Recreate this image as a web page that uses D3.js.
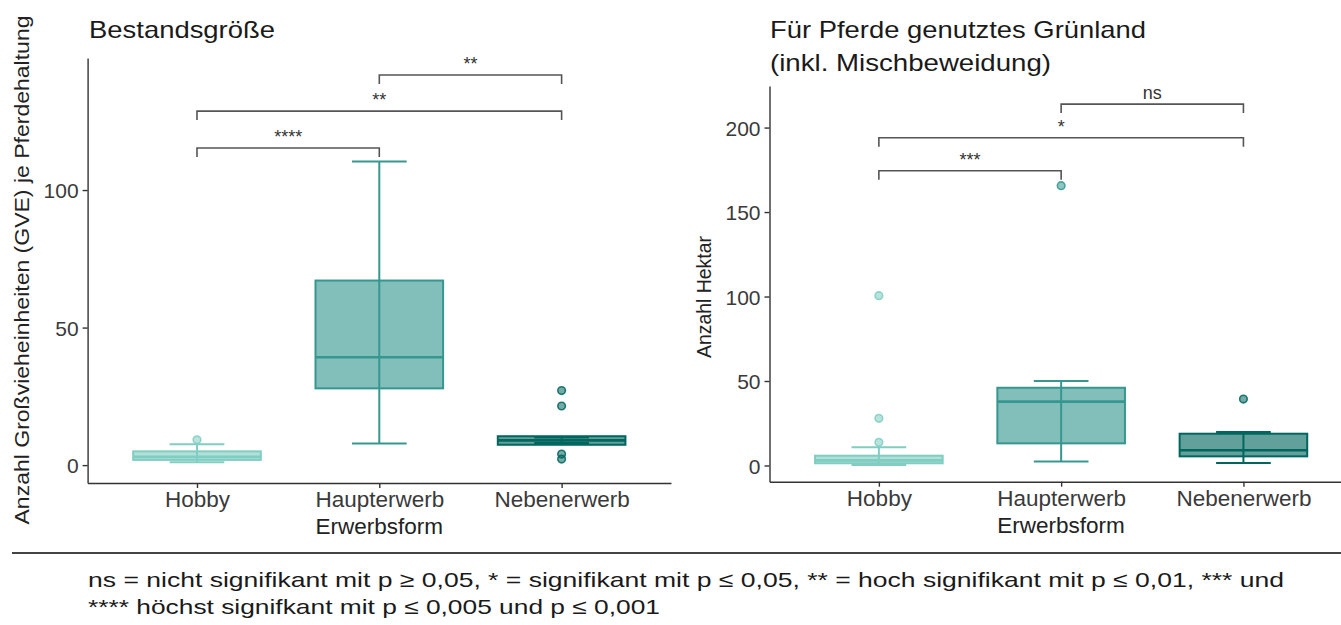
<!DOCTYPE html>
<html>
<head>
<meta charset="utf-8">
<script src="https://cdn.jsdelivr.net/npm/d3@7"></script>
<style>
  body { margin: 0; background: #fff; }
  svg { display: block; }
  text { font-family: "Liberation Sans", Arial, Helvetica, sans-serif; }
</style>
</head>
<body>
<svg id="chart" width="1341" height="625"></svg>
<script>
// ---- data -------------------------------------------------------------
const categories = ["Hobby", "Haupterwerb", "Nebenerwerb"];
const boxColors = ["#80cdc1", "#35978f", "#01665e"];

// Bestandsgröße (GVE je Pferdehaltung)
const gveWhiskerLow  = [1.0, 7.9, 8.0];
const gveQ1          = [1.9, 27.9, 7.4];
const gveMedian      = [3.0, 39.2, 9.0];
const gveQ3          = [5.0, 67.1, 10.5];
const gveWhiskerHigh = [7.6, 110.4, 10.0];
const gveOutliers    = [[9.2], [], [27.1, 21.5, 4.0, 2.2]];
const gveTicks       = [0, 50, 100];
const gvePairs       = [[0, 1], [0, 2], [1, 2]];
const gveSigLabels   = ["****", "**", "**"];
const gveSigHeights  = [115.3, 128.7, 141.8];

// Für Pferde genutztes Grünland (Hektar)
const haWhiskerLow  = [0.3, 2.3, 1.5];
const haQ1          = [1.3, 13.1, 5.4];
const haMedian      = [3.0, 37.8, 9.0];
const haQ3          = [5.8, 46.0, 18.8];
const haWhiskerHigh = [10.8, 50.0, 19.8];
const haOutliers    = [[100.5, 27.9, 13.7], [165.6], [39.3]];
const haTicks       = [0, 50, 100, 150, 200];
const haPairs       = [[0, 1], [0, 2], [1, 2]];
const haSigLabels   = ["***", "*", "ns"];
const haSigHeights  = [174.4, 194.0, 213.9];

const xAxisTitle = "Erwerbsform";
const footnoteLines = [
  "ns = nicht signifikant mit p \u2265 0,05, * = signifikant mit p \u2264 0,05, ** = hoch signifikant mit p \u2264 0,01, *** und",
  "**** h\u00f6chst signifkant mit p \u2264 0,005 und p \u2264 0,001"
];

// ---- drawing ----------------------------------------------------------
const svg = d3.select("#chart");
const axisColor = "#333";
const tickTextColor = "#3a3a3a";

function drawPanel(cfg) {
  const g = svg.append("g");
  const x = d3.scalePoint().domain(categories).range(cfg.xRange).padding(0.6);
  const y = d3.scaleLinear().domain(cfg.yDomain).range(cfg.yRange);
  const step = x.step();
  const boxW = step * 0.7;
  const capW = step * 0.3;

  // y axis
  const ya = g.append("g")
    .attr("transform", `translate(${cfg.xRange[0]},0)`)
    .call(d3.axisLeft(y).tickValues(cfg.ticks).tickSize(5).tickSizeOuter(0).tickPadding(4));
  // x axis
  const xa = g.append("g")
    .attr("transform", `translate(0,${cfg.yRange[0]})`)
    .call(d3.axisBottom(x).tickSize(5).tickSizeOuter(0).tickPadding(6));
  [ya, xa].forEach(a => {
    a.select(".domain").attr("stroke", axisColor).attr("stroke-width", 1.4);
    a.selectAll(".tick line").attr("stroke", axisColor).attr("stroke-width", 1.4);
    a.selectAll(".tick text").attr("fill", tickTextColor)
      .style("font-family", '"Liberation Sans", Arial, sans-serif');
  });
  ya.selectAll(".tick text").style("font-size", "21px").attr("dy", "0.36em");
  xa.selectAll(".tick text").style("font-size", "22.5px").attr("dy", null).attr("y", 0)
    .attr("transform", `translate(0,${cfg.tickLabelBaseline - cfg.yRange[0]})`);

  // x axis title
  g.append("text")
    .attr("x", (cfg.xTitleCenter))
    .attr("y", cfg.xTitleBaseline)
    .attr("text-anchor", "middle")
    .attr("fill", "#222")
    .style("font-size", "22.5px")
    .text(xAxisTitle);

  // y axis title
  g.append("text")
    .attr("transform", `translate(${cfg.yTitleX},${cfg.yTitleCenter}) rotate(-90)`)
    .attr("text-anchor", "middle")
    .attr("fill", "#222")
    .style("font-size", cfg.yTitleSize + "px")
    .attr("textLength", cfg.yTitleLength)
    .attr("lengthAdjust", "spacingAndGlyphs")
    .text(cfg.yTitle);

  // panel title
  cfg.title.forEach((line, i) => {
    g.append("text")
      .attr("x", cfg.titleX)
      .attr("y", cfg.titleBaselines[i])
      .attr("fill", "#1a1a1a")
      .style("font-size", "24px")
      .attr("textLength", cfg.titleLengths[i])
      .attr("lengthAdjust", "spacingAndGlyphs")
      .text(line);
  });

  // boxplots
  categories.forEach((c, i) => {
    const cx = x(c);
    const col = boxColors[i];
    const bg = g.append("g");
    // error bar (whiskers with caps), behind the box
    bg.append("line")
      .attr("x1", cx).attr("x2", cx)
      .attr("y1", y(cfg.wLow[i])).attr("y2", y(cfg.wHigh[i]))
      .attr("stroke", col).attr("stroke-width", 2);
    [cfg.wLow[i], cfg.wHigh[i]].forEach(v => {
      bg.append("line")
        .attr("x1", cx - capW / 2).attr("x2", cx + capW / 2)
        .attr("y1", y(v)).attr("y2", y(v))
        .attr("stroke", col).attr("stroke-width", 2);
    });
    // box
    bg.append("rect")
      .attr("x", cx - boxW / 2)
      .attr("width", boxW)
      .attr("y", y(cfg.q3[i]))
      .attr("height", y(cfg.q1[i]) - y(cfg.q3[i]))
      .attr("fill", col).attr("fill-opacity", 0.62)
      .attr("stroke", col).attr("stroke-width", 2);
    // median
    bg.append("line")
      .attr("x1", cx - boxW / 2).attr("x2", cx + boxW / 2)
      .attr("y1", y(cfg.median[i])).attr("y2", y(cfg.median[i]))
      .attr("stroke", col).attr("stroke-width", 2.6);
    // outliers
    bg.selectAll("circle.out").data(cfg.outliers[i]).join("circle")
      .attr("class", "out")
      .attr("cx", cx).attr("cy", d => y(d)).attr("r", 3.8)
      .attr("fill", col).attr("fill-opacity", 0.55)
      .attr("stroke", col).attr("stroke-opacity", 0.85).attr("stroke-width", 1.6);
  });

  // significance brackets
  const tip = 9;
  cfg.pairs.forEach((p, k) => {
    const x1 = x(categories[p[0]]), x2 = x(categories[p[1]]);
    const yy = y(cfg.sigHeights[k]);
    g.append("path")
      .attr("d", `M${x1},${yy + tip}V${yy}H${x2}V${yy + tip}`)
      .attr("fill", "none").attr("stroke", "#555").attr("stroke-width", 1.6);
    g.append("text")
      .attr("x", (x1 + x2) / 2).attr("y", yy - 5)
      .attr("text-anchor", "middle")
      .attr("fill", "#333")
      .style("font-size", "18px")
      .text(cfg.sigLabels[k]);
  });
}

drawPanel({
  xRange: [87.6, 671], yRange: [483, 58], yDomain: [-6.5, 148],
  ticks: gveTicks,
  wLow: gveWhiskerLow, q1: gveQ1, median: gveMedian, q3: gveQ3, wHigh: gveWhiskerHigh,
  outliers: gveOutliers,
  pairs: gvePairs, sigLabels: gveSigLabels, sigHeights: gveSigHeights,
  tickLabelBaseline: 507, xTitleCenter: 379.3, xTitleBaseline: 534,
  yTitle: "Anzahl Gro\u00dfvieheinheiten (GVE) je Pferdehaltung",
  yTitleX: 28.5, yTitleCenter: 270, yTitleSize: 21, yTitleLength: 509,
  title: ["Bestandsgr\u00f6\u00dfe"], titleX: 89, titleBaselines: [38], titleLengths: [186]
});

drawPanel({
  xRange: [769.5, 1352.8], yRange: [481.7, 86], yDomain: [-9.6, 224.6],
  ticks: haTicks,
  wLow: haWhiskerLow, q1: haQ1, median: haMedian, q3: haQ3, wHigh: haWhiskerHigh,
  outliers: haOutliers,
  pairs: haPairs, sigLabels: haSigLabels, sigHeights: haSigHeights,
  tickLabelBaseline: 506, xTitleCenter: 1061, xTitleBaseline: 533,
  yTitle: "Anzahl Hektar",
  yTitleX: 711, yTitleCenter: 297, yTitleSize: 19.5, yTitleLength: 122,
  title: ["F\u00fcr Pferde genutztes Gr\u00fcnland", "(inkl. Mischbeweidung)"],
  titleX: 770, titleBaselines: [38, 71], titleLengths: [376, 281]
});

// separator and footnote
svg.append("line")
  .attr("x1", 12).attr("x2", 1341).attr("y1", 553).attr("y2", 553)
  .attr("stroke", "#444").attr("stroke-width", 2);

const footLengths = [1196, 572];
const footBaselines = [587, 614];
footnoteLines.forEach((line, i) => {
  svg.append("text")
    .attr("x", 88).attr("y", footBaselines[i])
    .attr("fill", "#1a1a1a")
    .style("font-family", '"Liberation Sans Narrow", "Liberation Sans", Arial, sans-serif')
    .style("font-size", "21px")
    .attr("textLength", footLengths[i])
    .attr("lengthAdjust", "spacingAndGlyphs")
    .text(line);
});
</script>
</body>
</html>
